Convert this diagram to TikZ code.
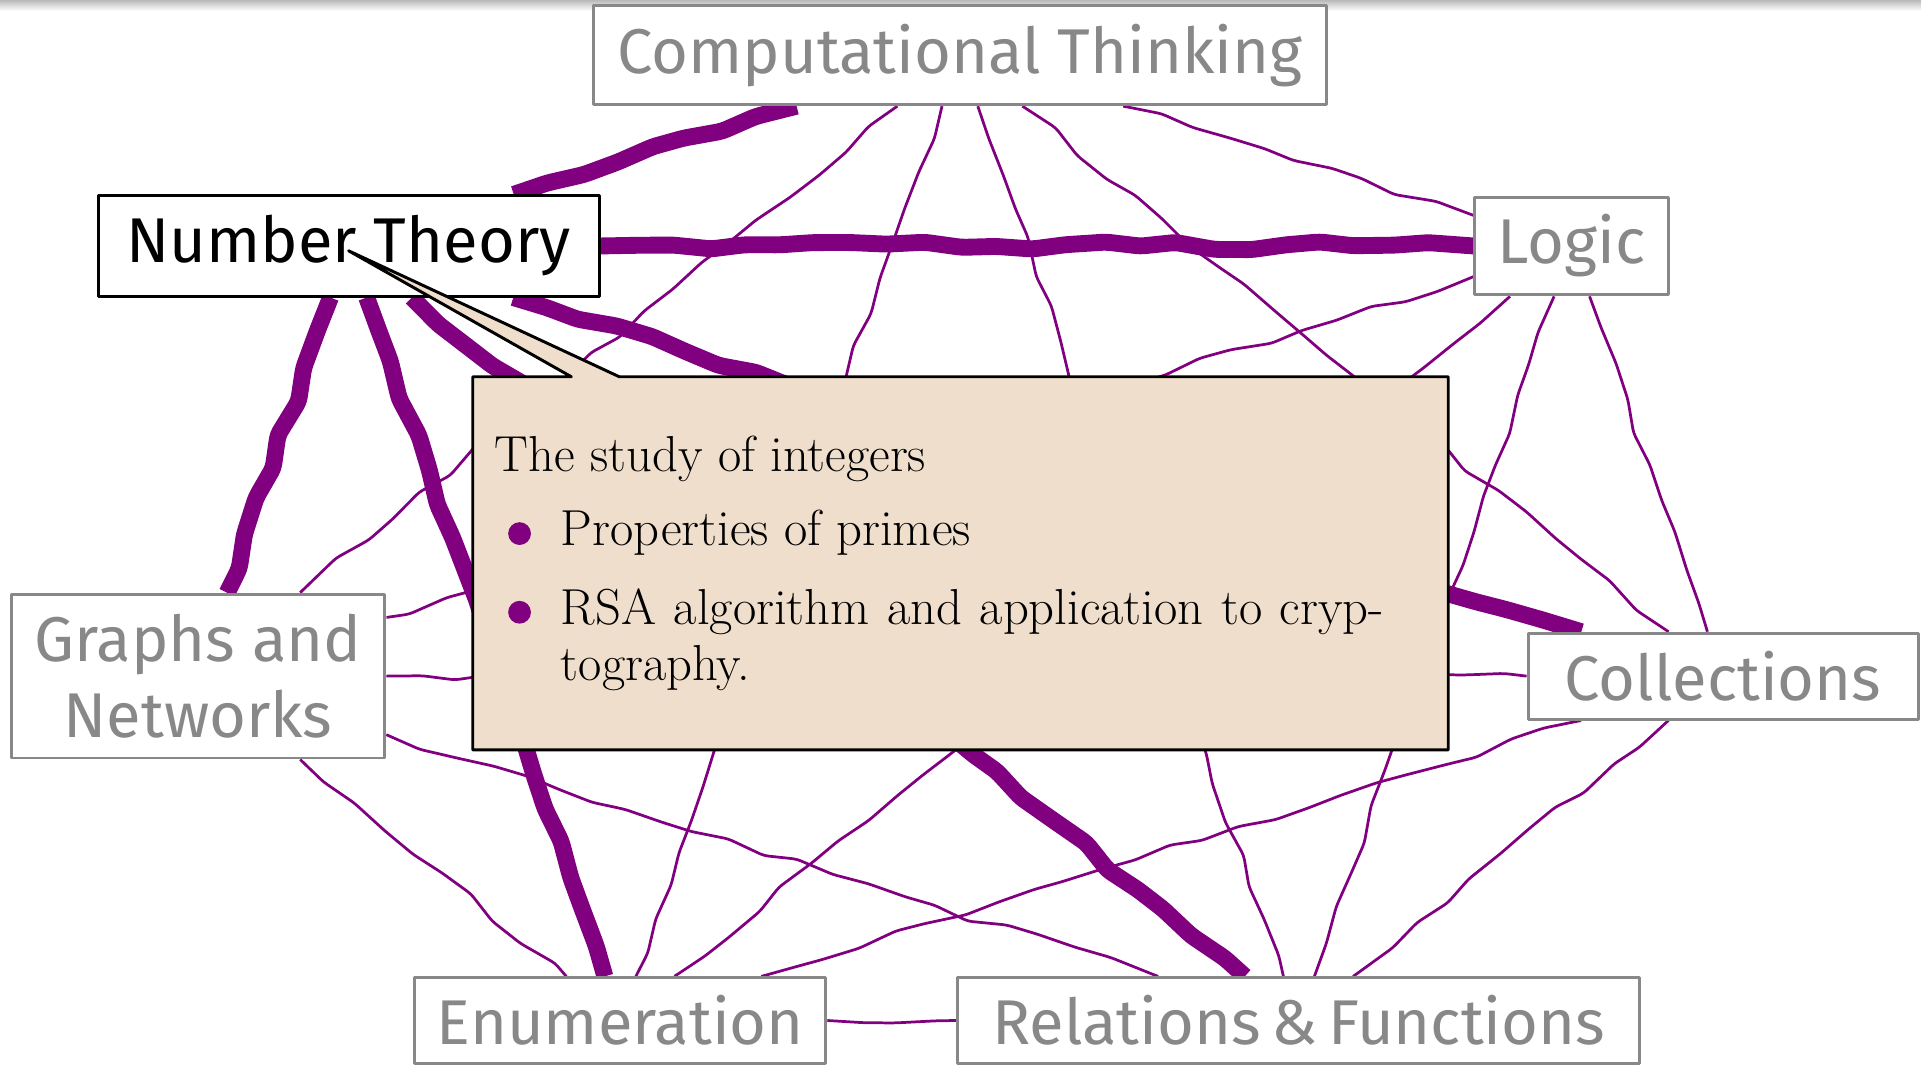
\documentclass[tikz,border=0pt]{standalone}
\usepackage{fontspec}
\usepackage{enumitem}
\usetikzlibrary{shapes.callouts,decorations.pathmorphing,backgrounds}
\newfontfamily\handfont{Fira Sans}
\definecolor{xpurple}{HTML}{800080}
\definecolor{boxgray}{HTML}{888888}
\definecolor{notefill}{HTML}{EFDECB}
\tikzset{
  topic/.style={draw=boxgray, line width=1.4pt, text=boxgray, fill=white,
    inner sep=0pt, align=center, font=\handfont\fontsize{30}{36}\selectfont},
  current/.style={topic, draw=black, text=black},
  link/.style={xpurple, line width=1.3pt, line join=round, decorate,
    decoration={random steps, segment length=0.6cm, amplitude=0.07cm},
    rounded corners=2pt},
  hot/.style={link, line width=8pt},
  infobox/.style={rectangle callout, draw=black, line width=1.4pt,
    fill=notefill, text width=15.52cm, inner xsep=0.37cm, inner ysep=0pt,
    minimum height=6.22cm, align=justify, font=\fontsize{24}{26.5}\selectfont,
    callout pointer width=0.8cm}
}
\begin{document}
\begin{tikzpicture}[line cap=round, line join=round]
\pgfmathsetseed{7}
\useasboundingbox (0,0) rectangle (32.02,17.75);

% Schatten am oberen Rand
\shade[top color=gray!55, bottom color=white] (0,17.57) rectangle (32.02,17.75);

% Themen
\node[topic, minimum width=12.23cm, minimum height=1.65cm] (ct) at (16.0,16.83) {Computational Thinking};
\node[current, minimum width=8.35cm, minimum height=1.67cm] (nt) at (5.81,13.65) {Number Theory};
\node[topic, minimum width=3.23cm, minimum height=1.63cm] (lo) at (26.2,13.65) {Logic};
\node[topic, minimum width=6.23cm, minimum height=2.73cm] (gr) at (3.3,6.48) {Graphs and\\Networks};
\node[topic, minimum width=6.5cm, minimum height=1.43cm] (co) at (28.72,6.48) {Collections};
\node[topic, minimum width=6.85cm, minimum height=1.42cm] (en) at (10.34,0.74) {Enumeration};
\node[topic, minimum width=11.37cm, minimum height=1.42cm] (rf) at (21.65,0.74) {Relations\,\&\,Functions};

\coordinate (ptr) at (5.81,13.57);

% Verbindungen
\begin{scope}[on background layer]
  \draw[hot] (nt) -- (ct);
  \draw[hot] (nt) -- (lo);
  \draw[hot] (nt) -- (gr);
  \draw[hot] (nt) -- (co);
  \draw[hot] (nt) -- (en);
  \draw[hot] (nt) -- (rf);
  \foreach \a/\b in {ct/lo, ct/gr, ct/co, ct/en, ct/rf,
                     lo/gr, lo/co, lo/en, lo/rf,
                     gr/co, gr/en, gr/rf,
                     co/en, co/rf, en/rf}
    \draw[link] (\a) -- (\b);
\end{scope}

% Erklaerung
\node[infobox, callout absolute pointer={(ptr)}] (info) at (16.01,8.36) {%
  \noindent The study of integers\par
  \vspace{0.3cm}
  \begin{itemize}[topsep=0pt, itemsep=0.38cm, parsep=0pt, partopsep=0pt,
      leftmargin=1.1cm, rightmargin=0.7cm, labelsep=0.5cm,
      label={\tikz[baseline={(0,-5.7pt)}]\fill[xpurple] (0,0) circle (5.4pt);}]
    \item Properties of primes
    \item RSA algorithm and application to cryp-\linebreak tography.
  \end{itemize}};

\end{tikzpicture}
\end{document}
